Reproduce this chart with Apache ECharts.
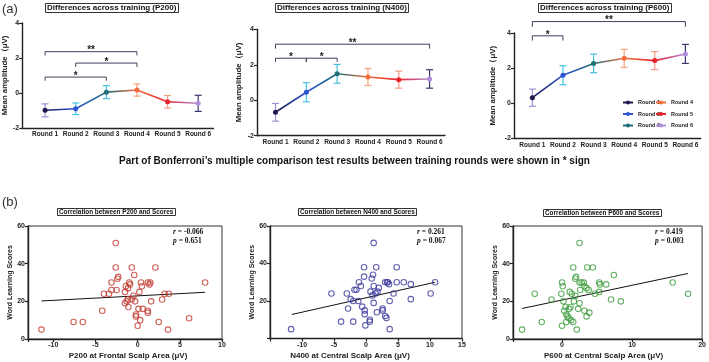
<!DOCTYPE html>
<html>
<head>
<meta charset="utf-8">
<script src="https://cdn.jsdelivr.net/npm/echarts@6/dist/echarts.min.js"></script>
<style>
  html, body { margin: 0; padding: 0; background: #fff; }
  #chart { width: 709px; height: 362px; }
</style>
</head>
<body>
<div id="chart"></div>
<script>
const rounds = ['Round 1', 'Round 2', 'Round 3', 'Round 4', 'Round 5', 'Round 6'];

// mean amplitude (μV) per round and half length of the error bar
const p200Mean = [-0.99, -0.9, 0.05, 0.17, -0.5, -0.59];
const p200Err = [0.37, 0.33, 0.37, 0.35, 0.36, 0.46];
const n400Mean = [-0.68, 0.45, 1.49, 1.31, 1.16, 1.2];
const n400Err = [0.5, 0.54, 0.53, 0.48, 0.48, 0.52];
const p600Mean = [0.32, 1.6, 2.27, 2.56, 2.43, 2.81];
const p600Err = [0.49, 0.54, 0.53, 0.51, 0.51, 0.54];

// brackets: [from round, to round, bar level, leg end, stars]
const p200Sig = [[1, 4, 2.36, 2.15, '**'], [2, 4, 1.71, 1.49, '*'], [1, 3, 0.91, 0.7, '*']];
const n400Sig = [[1, 6, 3.16, 2.91, '**'], [1, 2, 2.37, 2.16, '*'], [2, 3, 2.37, 2.16, '*']];
const p600Sig = [[1, 6, 4.65, 4.35, '**'], [1, 2, 3.84, 3.57, '*']];

// word learning scores against ERP amplitude
const p200X = [-11.4, -7.6, -6.5, -4.2, -4.0, -3.4, -3.1, -3.1, -2.6, -2.6, -2.4, -2.3, -2.5, -1.5, -1.4, -1.15, -1.0, -0.9, -0.7, -0.4, -1.5, -1.3, -1.15, -0.7, -0.5, -0.3, -1.1, 0.1, -0.2, -0.2, 0.0, 0.3, 0.2, 0.4, 0.5, 0.6, 1.2, 1.4, 1.5, 1.2, 1.2, 1.6, 2.1, 2.5, 2.9, 3.2, 3.7, 3.6, 6.1, 8.0];
const p200Y = [5, 9, 9, 15, 24, 24, 26, 30, 51, 38, 32, 33, 26, 25, 28, 27, 30, 29, 38, 34, 19, 20, 21, 21, 23, 20, 17, 16, 13, 12, 7, 10, 25, 30, 28, 16, 30, 29, 30, 15, 14, 20, 38, 9, 21, 24, 24, 5, 11, 30];
const n400X = [-11.7, -5.4, -3.9, -3.0, -2.8, -2.4, -2.0, -2.0, -1.8, -1.5, -1.2, -1.1, -0.8, -0.6, -0.3, -0.3, -0.2, -0.2, -0.1, 0.6, 0.6, 0.7, 0.9, 1.1, 1.0, 1.2, 1.2, 1.2, 1.6, 1.5, 1.8, 1.7, 2.0, 2.6, 2.6, 3.0, 3.0, 3.2, 3.3, 3.6, 3.4, 3.7, 3.7, 4.3, 4.8, 4.8, 5.9, 7.0, 7.0, 10.1, 10.8];
const n400Y = [5, 24, 9, 24, 16, 21, 9, 20, 26, 26, 20, 30, 28, 17, 38, 33, 15, 13, 7, 9, 10, 25, 32, 34, 23, 28, 19, 51, 38, 24, 25, 14, 27, 16, 15, 30, 12, 11, 30, 29, 30, 20, 5, 24, 38, 30, 30, 29, 21, 24, 30];
const p600X = [-5.7, -3.9, -2.9, -1.5, 0.0, 0.1, -0.1, 0.0, 0.2, 0.6, 0.3, 0.5, 0.6, 0.8, 0.95, 1.0, 1.2, 1.1, 1.4, 1.3, 1.6, 1.6, 1.7, 1.9, 2.0, 1.9, 2.1, 2.3, 2.5, 2.5, 2.5, 2.6, 2.8, 3.1, 3.2, 3.2, 3.5, 3.5, 3.6, 3.8, 3.9, 4.4, 4.7, 5.3, 5.4, 5.3, 6.3, 7.0, 7.4, 8.4, 15.8, 18.0];
const p600Y = [5, 24, 9, 21, 30, 28, 24, 7, 20, 9, 15, 17, 13, 12, 11, 16, 17, 25, 24, 10, 38, 9, 20, 32, 33, 23, 5, 16, 51, 19, 30, 26, 30, 30, 15, 28, 27, 12, 38, 26, 14, 38, 24, 30, 29, 25, 29, 21, 34, 20, 30, 24];

// fitted lines: x ends, y ends
const p200FitX = [-11.4, 8.0], p200FitY = [20.2, 24.8];
const n400FitX = [-11.6, 10.8], n400FitY = [12.8, 30.0];
const p600FitX = [-5.7, 18.0], p600FitY = [16.2, 34.8];

const rStats = ['-0.066', '0.261', '0.419'];
const pStats = ['0.651', '0.067', '0.003'];

const pointColors = ['#1d1b4f', '#2f55d4', '#1e6f76', '#f26c3c', '#e8212b', '#b18fdc'];
const errColors = ['#9d92d6', '#46c2e6', '#46bcdc', '#f4a47e', '#f49a88', '#3d336e'];
const scatterColors = ['#c23a30', '#3b3a9c', '#3e9e3e'];

const font = 'Arial, "Liberation Sans", sans-serif';
const ink = '#222';

const myChart = echarts.init(document.getElementById('chart'));

const aPanels = [
  { name: 'P200', mean: p200Mean, err: p200Err, sig: p200Sig, grid: { left: 21, top: 23, width: 192.5, height: 105 }, min: 0.25, gap: 13 },
  { name: 'N400', mean: n400Mean, err: n400Err, sig: n400Sig, grid: { left: 257, top: 29.3, width: 188, height: 106.4 }, min: 0.4, gap: 14 },
  { name: 'P600', mean: p600Mean, err: p600Err, sig: p600Sig, grid: { left: 514, top: 33, width: 186.7, height: 105.5 }, min: 0.4, gap: 17 }
];
const bPanels = [
  { x: p200X, y: p200Y, fx: p200FitX, fy: p200FitY, xName: 'P200 at Frontal Scalp Area (μV)', title: 'Correlation between P200 and Scores',
    grid: { left: 28, top: 226, width: 194, height: 113 }, min: -13, max: 10, step: 5, gap: 14, zero: true, titlePos: [57, 208], statPos: [173, 228], nameShift: [0, 0, 0, 6] },
  { x: n400X, y: n400Y, fx: n400FitX, fy: n400FitY, xName: 'N400 at Central Scalp Area (μV)', title: 'Correlation between N400 and Scores',
    grid: { left: 270, top: 226, width: 192, height: 112.5 }, min: -15, max: 15, step: 5, gap: 10, zero: false, titlePos: [298, 208], statPos: [417, 228], nameShift: [0, 32, 0, 0] },
  { x: p600X, y: p600Y, fx: p600FitX, fy: p600FitY, xName: 'P600 at Central Scalp Area (μV)', title: 'Correlation between P600 and Scores',
    grid: { left: 513, top: 226, width: 190, height: 113 }, min: -7, max: 20, step: 10, gap: 10, zero: true, titlePos: [543, 209], statPos: [655, 228], nameShift: [0, 8, 0, 0] }
];
const aTitleLeft = [45, 275, 538];

const grids = [], xAxes = [], yAxes = [], series = [], titles = [];
const axisLineStyle = { color: ink, width: 1.4 };
const isInt = v => Math.abs(v - Math.round(v)) < 1e-6;

aPanels.forEach((p, g) => {
  grids.push(p.grid);
  xAxes.push({
    gridIndex: g, type: 'value', min: p.min, max: 6.5, minInterval: 1, maxInterval: 1,
    axisLine: { onZero: false, lineStyle: axisLineStyle },
    axisTick: { show: false }, splitLine: { show: false },
    axisLabel: {
      color: ink, fontSize: 6.5, fontWeight: 'bold', margin: 3,
      formatter: v => (isInt(v) && v >= 1 && v <= 6) ? rounds[Math.round(v) - 1] : ''
    }
  });
  yAxes.push({
    gridIndex: g, type: 'value', min: -2, max: 4, interval: 2,
    name: 'Mean amplitude（μV)', nameLocation: 'middle', nameRotate: 90, nameGap: p.gap,
    nameTextStyle: { color: ink, fontSize: 7.8, fontWeight: 'bold' },
    axisLine: { show: true, onZero: false, lineStyle: axisLineStyle },
    axisTick: { show: true, length: 3, lineStyle: { color: ink, width: 1.2 } },
    axisLabel: { color: ink, fontSize: 7, fontWeight: 'bold', margin: 3 },
    splitLine: { show: false }
  });
  titles.push({
    text: 'Differences across training (' + p.name + ')', left: aTitleLeft[g], top: 3,
    borderColor: '#333', borderWidth: 1, padding: [1, 2],
    textStyle: { fontSize: 8, fontWeight: 'bold', color: '#111', fontFamily: font }
  });

  // coloured segments between consecutive rounds
  series.push({
    type: 'custom', xAxisIndex: g, yAxisIndex: g, z: 2, silent: true,
    data: p.mean.slice(0, 5).map((m, i) => [i + 1, i + 2, m, p.mean[i + 1]]),
    encode: { x: [0, 1], y: [2, 3] },
    renderItem: (params, api) => {
      const a = api.coord([api.value(0), api.value(2)]);
      const b = api.coord([api.value(1), api.value(3)]);
      const i = params.dataIndex;
      return {
        type: 'line',
        shape: { x1: a[0], y1: a[1], x2: b[0], y2: b[1] },
        style: {
          lineWidth: 1.6,
          stroke: new echarts.graphic.LinearGradient(a[0], a[1], b[0], b[1], [
            { offset: 0, color: pointColors[i] },
            { offset: 1, color: pointColors[i + 1] }
          ], true)
        }
      };
    }
  });

  // error bars
  series.push({
    type: 'custom', xAxisIndex: g, yAxisIndex: g, z: 3, silent: true,
    data: p.mean.map((m, i) => [i + 1, m - p.err[i], m + p.err[i]]),
    encode: { x: 0, y: [1, 2] },
    renderItem: (params, api) => {
      const lo = api.coord([api.value(0), api.value(1)]);
      const hi = api.coord([api.value(0), api.value(2)]);
      const c = errColors[params.dataIndex];
      const w = 3.5;
      const st = { stroke: c, lineWidth: 1.2 };
      return {
        type: 'group',
        children: [
          { type: 'line', shape: { x1: lo[0], y1: lo[1], x2: hi[0], y2: hi[1] }, style: st },
          { type: 'line', shape: { x1: lo[0] - w, y1: lo[1], x2: lo[0] + w, y2: lo[1] }, style: st },
          { type: 'line', shape: { x1: hi[0] - w, y1: hi[1], x2: hi[0] + w, y2: hi[1] }, style: st }
        ]
      };
    }
  });

  // points, one series per round so the legend can list them
  rounds.forEach((r, i) => {
    series.push({
      name: r, type: 'line', xAxisIndex: g, yAxisIndex: g, z: 4,
      data: [[i + 1, p.mean[i]]],
      symbol: 'circle', symbolSize: 5, showSymbol: true,
      itemStyle: { color: pointColors[i] },
      lineStyle: { color: pointColors[i], width: 1.6 }
    });
  });

  // significance brackets
  const sig = p.sig;
  series.push({
    type: 'custom', xAxisIndex: g, yAxisIndex: g, z: 5, silent: true, clip: false,
    data: sig.map(s => [s[0], s[1], s[2], s[3]]),
    encode: { x: [0, 1], y: [2, 3] },
    renderItem: (params, api) => {
      const a = api.coord([api.value(0), api.value(3)]);
      const b = api.coord([api.value(0), api.value(2)]);
      const c = api.coord([api.value(1), api.value(2)]);
      const d = api.coord([api.value(1), api.value(3)]);
      return {
        type: 'group',
        children: [
          { type: 'polyline', shape: { points: [a, b, c, d] }, style: { stroke: '#3b3f5a', lineWidth: 1, fill: null } },
          {
            type: 'text', x: (b[0] + c[0]) / 2, y: b[1] - 1,
            style: { text: sig[params.dataIndex][4], textAlign: 'center', textVerticalAlign: 'middle', font: 'bold 10px ' + font, fill: ink }
          }
        ]
      };
    }
  });
});

bPanels.forEach((p, k) => {
  const g = k + 3;
  grids.push(Object.assign({ show: true, borderColor: '#333', borderWidth: 1, backgroundColor: 'transparent' }, p.grid));
  const step = p.step;
  xAxes.push({
    gridIndex: g, type: 'value', min: p.min, max: p.max, minInterval: step, maxInterval: step,
    name: p.xName, nameLocation: 'middle', nameGap: 13,
    nameTextStyle: { color: ink, fontSize: 8, fontWeight: 'bold', padding: p.nameShift },
    axisLine: { onZero: false, lineStyle: axisLineStyle },
    axisTick: { show: true, length: 3, lineStyle: { color: ink, width: 1.2 } },
    splitLine: { show: false },
    axisLabel: {
      color: ink, fontSize: 7, fontWeight: 'bold', margin: 3,
      formatter: v => (isInt(v / step) && v > p.min) ? String(Math.round(v)) : ''
    }
  });
  yAxes.push({
    gridIndex: g, type: 'value', min: 0, max: 60, interval: 20,
    name: 'Word Learning Scores', nameLocation: 'middle', nameRotate: 90, nameGap: p.gap,
    nameTextStyle: { color: ink, fontSize: 7, fontWeight: 'bold' },
    axisLine: { show: true, onZero: false, lineStyle: axisLineStyle },
    axisTick: { show: true, length: 3, lineStyle: { color: ink, width: 1.2 } },
    axisLabel: { color: ink, fontSize: 7, fontWeight: 'bold', margin: 3, formatter: v => (v === 0 && !p.zero) ? '' : String(v) },
    splitLine: { show: false }
  });
  series.push({
    type: 'scatter', xAxisIndex: g, yAxisIndex: g, z: 3,
    data: p.x.map((v, i) => [v, p.y[i]]),
    symbol: 'circle', symbolSize: 5.5,
    itemStyle: { color: 'transparent', borderColor: scatterColors[k], borderWidth: 1.1 }
  });
  series.push({
    type: 'line', xAxisIndex: g, yAxisIndex: g, z: 2,
    data: p.fx.map((v, i) => [v, p.fy[i]]),
    showSymbol: false, silent: true,
    lineStyle: { color: '#111', width: 1 }
  });
  titles.push({
    text: p.title, left: p.titlePos[0], top: p.titlePos[1],
    borderColor: '#333', borderWidth: 1, padding: [1, 2],
    textStyle: { fontSize: 6.4, fontWeight: 'bold', color: '#111', fontFamily: font }
  });
  titles.push({
    text: '{i|r} = ' + rStats[k] + '\n{i|p} = ' + pStats[k], left: p.statPos[0], top: p.statPos[1], padding: 0,
    textStyle: {
      fontSize: 7.5, fontWeight: 'bold', color: '#111', fontFamily: '"Times New Roman", "Liberation Serif", serif', lineHeight: 9,
      rich: { i: { fontStyle: 'italic', fontSize: 7.5, fontWeight: 'bold', fontFamily: '"Times New Roman", "Liberation Serif", serif' } }
    }
  });
});

titles.push({ text: '(a)', left: 2, top: 3, padding: 0, textStyle: { fontSize: 13, fontWeight: 'normal', color: '#333', fontFamily: font } });
titles.push({ text: '(b)', left: 2, top: 196, padding: 0, textStyle: { fontSize: 13, fontWeight: 'normal', color: '#333', fontFamily: font } });
titles.push({
  text: 'Part of Bonferroni\u2019s multiple comparison test results between training rounds were shown in * sign',
  left: 'center', top: 156, padding: 0,
  textStyle: { fontSize: 10, fontWeight: 'bold', color: '#111', fontFamily: font }
});

const legendBase = {
  orient: 'vertical', itemWidth: 10, itemHeight: 5, itemGap: 5.5, padding: 0,
  textStyle: { fontSize: 5.5, fontWeight: 'bold', color: ink }
};

const option = {
  animation: false,
  textStyle: { fontFamily: font },
  title: titles,
  legend: [
    Object.assign({ data: rounds.slice(0, 3), left: 622, top: 99.5 }, legendBase),
    Object.assign({ data: rounds.slice(3), left: 655, top: 99.5 }, legendBase)
  ],
  grid: grids,
  xAxis: xAxes,
  yAxis: yAxes,
  series: series
};

myChart.setOption(option);
window.addEventListener('resize', () => myChart.resize());
</script>
</body>
</html>
